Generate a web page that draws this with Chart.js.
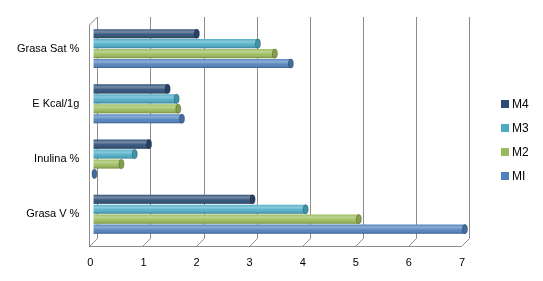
<!DOCTYPE html>
<html><head><meta charset="utf-8">
<script src="https://cdn.jsdelivr.net/npm/chart.js@4/dist/chart.umd.min.js"></script>
<style>
html,body{margin:0;padding:0;background:#fff;}
#wrap{position:relative;width:543px;height:281px;}
#legend{position:absolute;left:501px;top:96px;font-family:"Liberation Sans",Arial,sans-serif;font-size:12px;color:#000;}
#legend .it{height:24px;line-height:16px;white-space:nowrap;}
#legend .sw{display:inline-block;width:8px;height:8px;margin-right:3px;vertical-align:0px;}
</style>
</head><body><div id="wrap"><canvas id="c" width="543" height="281"></canvas><div id="legend"></div></div>
<script>
const categories = ["Grasa Sat %", "E Kcal/1g", "Inulina %", "Grasa V %"];
const seriesNames = ["M4", "M3", "M2", "MI"];
const M4 = [1.95, 1.4, 1.05, 3.0];
const M3 = [3.1, 1.57, 0.78, 4.0];
const M2 = [3.42, 1.6, 0.53, 5.0];
const MI = [3.72, 1.67, 0.02, 7.0];
const xTicks = [0, 1, 2, 3, 4, 5, 6, 7];
const colors = ["#2C4D75", "#4BACC6", "#9BBB59", "#4F81BD"];
const seriesValues = [M4, M3, M2, MI];

const D = 4; // half depth of the 3D box
const wallPlugin = {
  id: 'wall',
  beforeDatasetsDraw(chart) {
    const {ctx, chartArea: a, scales: {x}} = chart;
    ctx.save();
    ctx.strokeStyle = '#8c8c8c';
    ctx.lineWidth = 1;
    const bt = a.top - D, bb = Math.round(a.bottom - D) + 0.5, fb = Math.round(a.bottom + D) + 0.5;
    xTicks.forEach((t) => {
      const px = Math.round(x.getPixelForValue(t)) + 0.5;
      ctx.beginPath();
      ctx.moveTo(px + D, bt);
      ctx.lineTo(px + D, bb);
      ctx.lineTo(px - D, fb);
      ctx.stroke();
    });
    const x0 = Math.round(x.getPixelForValue(0)) + 0.5;
    ctx.beginPath();
    ctx.moveTo(x0 + D, bt);
    ctx.lineTo(x0 - D, bt + 2 * D);
    ctx.lineTo(x0 - D, fb);
    ctx.stroke();
    const x7 = Math.round(x.getPixelForValue(7)) + 0.5;
    ctx.beginPath();
    ctx.moveTo(x0 - D, fb);
    ctx.lineTo(x7 - D, fb);
    ctx.stroke();
    ctx.restore();
  },
  afterDatasetsDraw(chart) {
    const ctx = chart.ctx;
    ctx.save();
    chart.data.datasets.forEach((ds, di) => {
      const meta = chart.getDatasetMeta(di);
      meta.data.forEach(bar => {
        const h = bar.height, top = bar.y - h / 2;
        const left = Math.min(bar.base, bar.x), w = Math.abs(bar.x - bar.base);
        const g = ctx.createLinearGradient(0, top, 0, top + h);
        g.addColorStop(0, 'rgba(255,255,255,0.05)');
        g.addColorStop(0.3, 'rgba(255,255,255,0.35)');
        g.addColorStop(0.6, 'rgba(255,255,255,0.05)');
        g.addColorStop(1, 'rgba(0,0,0,0.25)');
        ctx.fillStyle = g;
        ctx.fillRect(left, top, w, h);
        ctx.beginPath();
        ctx.ellipse(bar.x, bar.y, 2.5, h / 2, 0, 0, Math.PI * 2);
        ctx.fillStyle = colors[di];
        ctx.fill();
        ctx.fillStyle = 'rgba(0,0,0,0.15)';
        ctx.fill();
        ctx.strokeStyle = 'rgba(0,0,0,0.3)';
        ctx.lineWidth = 0.8;
        ctx.stroke();
      });
    });
    ctx.restore();
  }
};

const legendEl = document.getElementById('legend');
seriesNames.forEach((n, i) => {
  const d = document.createElement('div');
  d.className = 'it';
  d.innerHTML = '<span class="sw" style="background:' + colors[i] + '"></span>' + n;
  legendEl.appendChild(d);
});

new Chart(document.getElementById('c'), {
  type: 'bar',
  data: {
    labels: categories,
    datasets: seriesNames.map((n, i) => ({
      label: n,
      data: seriesValues[i],
      backgroundColor: colors[i],
      borderWidth: 0,
      categoryPercentage: 0.72,
      barPercentage: 0.92
    }))
  },
  options: {
    indexAxis: 'y',
    responsive: false,
    animation: false,
    devicePixelRatio: 1,
    layout: { padding: { left: 11, right: 78, top: 21, bottom: 4 } },
    plugins: {
      legend: { display: false },
      tooltip: { enabled: false }
    },
    scales: {
      x: {
        min: 0, max: 7,
        afterBuildTicks: s => { s.ticks = xTicks.map(v => ({ value: v })); },
        grid: { display: false },
        border: { display: false },
        ticks: { color: '#000', font: { family: 'Liberation Sans', size: 11 }, padding: 7, labelOffset: -3 }
      },
      y: {
        grid: { display: false },
        border: { display: false },
        ticks: { color: '#000', font: { family: 'Liberation Sans', size: 11 }, padding: 6 }
      }
    }
  },
  plugins: [wallPlugin]
});
</script>
</body></html>
